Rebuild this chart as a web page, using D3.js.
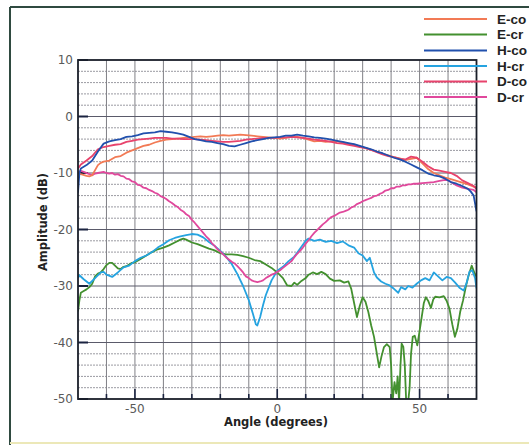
<!DOCTYPE html>
<html><head><meta charset="utf-8">
<script src="https://cdn.jsdelivr.net/npm/d3@7"></script>
<style>body{margin:0;background:#fff}svg{display:block}</style>
</head><body>
<svg id="c" width="529" height="445"></svg>
<script>
const xTicks = [-50, 0, 50];
const yTicks = [-50, -40, -30, -20, -10, 0, 10];
const seriesNames = ["E-co", "E-cr", "H-co", "H-cr", "D-co", "D-cr"];

const eCo = [[-70,-10.0],[-69,-10.2],[-67,-10.5],[-66,-10.6],[-65,-10.4],[-64,-9.5],[-63,-8.6],[-62,-8.2],[-61,-8.0],[-59,-7.8],[-57,-7.2],[-55,-7.0],[-53,-6.4],[-51,-6.0],[-49,-5.6],[-47,-5.2],[-45,-5.0],[-43,-4.6],[-41,-4.3],[-39,-4.1],[-37,-4.0],[-35,-3.9],[-33,-3.8],[-31,-3.7],[-29,-3.6],[-27,-3.5],[-25,-3.6],[-23,-3.5],[-21,-3.4],[-19,-3.3],[-17,-3.4],[-15,-3.3],[-13,-3.2],[-11,-3.3],[-9,-3.4],[-7,-3.5],[-5,-3.6],[-3,-3.7],[-1,-3.8],[1,-3.9],[3,-3.8],[5,-3.6],[7,-3.6],[9,-3.8],[11,-4.1],[13,-4.4],[15,-4.3],[17,-4.5],[19,-4.4],[21,-4.4],[23,-4.6],[25,-4.8],[27,-5.0],[29,-5.3],[31,-5.6],[33,-5.9],[35,-6.2],[37,-6.6],[39,-6.9],[41,-7.2],[43,-7.4],[45,-7.7],[47,-7.5],[49,-7.3],[51,-8.3],[53,-9.3],[55,-10.0],[57,-10.4],[59,-10.8],[61,-11.1],[63,-11.4],[65,-11.7],[67,-12.0],[69,-12.4],[70,-12.6]];

const eCr = [[-70,-34.5],[-69.5,-32.5],[-69,-31.2],[-68,-30.9],[-67,-30.6],[-66,-30.2],[-65,-29.6],[-64,-28.3],[-63,-27.8],[-62,-27.6],[-61,-27.0],[-60,-26.3],[-59,-25.9],[-58,-25.9],[-57,-26.4],[-56,-26.9],[-55,-27.0],[-54,-26.6],[-53,-26.5],[-52,-26.2],[-51,-25.9],[-50,-25.8],[-48,-25.2],[-46,-24.6],[-44,-24.0],[-42,-23.5],[-40,-23.2],[-38,-22.8],[-36,-22.3],[-34,-21.8],[-33,-21.6],[-32,-21.8],[-30,-22.3],[-28,-22.6],[-26,-23.0],[-24,-23.4],[-22,-23.7],[-20,-24.2],[-18,-24.4],[-16,-24.4],[-14,-24.5],[-12,-24.7],[-10,-25.0],[-8,-25.4],[-6,-25.6],[-4,-26.2],[-2,-26.8],[0,-27.6],[2,-28.6],[3.5,-29.9],[5,-30.0],[6,-29.4],[7,-29.8],[8.5,-29.1],[10,-28.6],[11,-28.0],[12.5,-27.6],[14,-27.9],[15.5,-27.5],[17,-27.9],[18.5,-28.7],[20,-29.1],[22,-29.0],[23.5,-29.4],[25,-29.2],[26,-30.5],[27,-33.0],[28,-35.5],[29,-33.5],[30,-32.0],[31,-32.8],[32,-34.6],[33,-37.0],[34,-39.0],[35,-42.0],[35.8,-44.4],[36.6,-42.5],[37.5,-40.8],[38.5,-40.3],[39.5,-40.8],[40,-44],[40.5,-50.5],[41.2,-47.0],[41.8,-49.0],[42.3,-46.0],[42.8,-50.5],[43.3,-44.0],[43.7,-40.2],[44.3,-40.8],[44.8,-44.0],[45.3,-50.5],[46.0,-50.5],[46.5,-48],[47.0,-42.0],[47.6,-39.0],[48.3,-38.8],[49.2,-40.5],[50.0,-38.0],[50.6,-36.0],[51.5,-33.0],[52.2,-32.0],[53,-32.6],[54,-33.9],[54.8,-32.4],[55.5,-31.9],[57,-32.0],[58.5,-31.8],[59.5,-32.6],[60.5,-34.0],[61.5,-36.8],[62.4,-39.0],[63.3,-37.5],[64.3,-34.5],[65.3,-32.5],[66.3,-30.0],[67.2,-28.2],[68.3,-26.4],[69.2,-27.6],[70,-28.4]];

const hCo = [[-70,-13.5],[-69.5,-10.0],[-69,-9.2],[-67,-8.6],[-65,-7.8],[-63,-6.2],[-61,-4.8],[-59,-4.4],[-57,-4.2],[-55,-4.0],[-53,-3.6],[-51,-3.5],[-49,-3.3],[-47,-3.0],[-45,-2.9],[-43,-2.8],[-41,-2.6],[-39,-2.7],[-37,-2.8],[-35,-3.0],[-33,-3.2],[-31,-3.6],[-29,-4.0],[-27,-4.2],[-25,-4.4],[-23,-4.5],[-21,-4.7],[-19,-4.9],[-17,-5.2],[-15,-5.3],[-13,-5.0],[-11,-4.7],[-9,-4.4],[-7,-4.2],[-5,-4.0],[-3,-3.8],[-1,-3.7],[1,-3.6],[3,-3.4],[5,-3.4],[7,-3.2],[9,-3.4],[11,-3.5],[13,-3.7],[15,-3.8],[17,-3.9],[19,-4.1],[21,-4.3],[23,-4.5],[25,-4.7],[27,-4.9],[29,-5.2],[31,-5.5],[33,-5.8],[35,-6.2],[37,-6.5],[39,-6.9],[41,-7.3],[43,-7.6],[45,-8.0],[47,-8.5],[49,-9.0],[51,-9.5],[53,-10.1],[55,-10.4],[57,-10.6],[59,-11.0],[61,-11.6],[63,-11.9],[65,-12.3],[67,-12.8],[68,-13.3],[69,-14.0],[70,-16.8]];

const hCr = [[-70,-28.6],[-69.5,-28.1],[-68,-28.8],[-66,-29.6],[-64,-28.6],[-62,-27.6],[-61,-27.5],[-60,-28.0],[-58,-28.4],[-56,-27.6],[-54,-26.7],[-52,-26.4],[-50,-25.6],[-48,-25.0],[-46,-24.6],[-44,-24.0],[-42,-23.2],[-40,-22.6],[-38,-21.9],[-36,-21.5],[-34,-21.2],[-32,-21.0],[-30,-20.8],[-28,-20.9],[-26,-21.4],[-24,-22.2],[-22,-22.9],[-20,-23.8],[-18,-24.8],[-16,-26.1],[-14,-27.9],[-12,-30.0],[-10,-32.5],[-8.5,-35.0],[-7.5,-36.8],[-7,-37.0],[-6,-35.5],[-5,-33.4],[-4,-31.6],[-2,-29.0],[0,-27.3],[2,-26.6],[4,-25.6],[6,-24.8],[8,-23.4],[10,-22.0],[11,-21.6],[13,-22.0],[15,-21.8],[17,-22.2],[19,-22.0],[21,-22.4],[23,-22.1],[25,-22.8],[27,-23.2],[28.5,-24.2],[30,-24.6],[31.5,-25.6],[32.5,-25.0],[34,-27.6],[35,-28.5],[36.5,-29.2],[38,-29.6],[39.5,-29.9],[41,-30.5],[42.5,-31.2],[43.5,-30.2],[45,-30.6],[46,-30.0],[47.5,-30.3],[49,-29.6],[50.5,-29.0],[52,-28.6],[53.5,-29.0],[55,-27.6],[56.5,-28.3],[58,-29.0],[59.5,-28.4],[61,-28.6],[62.5,-29.4],[64,-30.3],[65.5,-30.8],[66.5,-29.5],[67.5,-27.5],[68.5,-27.2],[69.5,-28.6],[70,-30.4]];

const dCo = [[-70,-9.2],[-69,-8.5],[-67,-7.8],[-65,-7.0],[-63,-5.8],[-61,-5.4],[-59,-5.2],[-57,-5.0],[-55,-4.9],[-53,-4.5],[-51,-4.3],[-49,-4.1],[-47,-4.0],[-45,-3.9],[-43,-3.8],[-41,-3.8],[-39,-3.8],[-37,-3.9],[-35,-3.9],[-33,-4.0],[-31,-4.0],[-29,-4.0],[-27,-4.1],[-25,-4.2],[-23,-4.3],[-21,-4.4],[-19,-4.5],[-17,-4.5],[-15,-4.4],[-13,-4.3],[-11,-4.1],[-9,-4.0],[-7,-3.9],[-5,-3.8],[-3,-3.8],[-1,-3.8],[1,-3.7],[3,-3.7],[5,-3.6],[7,-3.7],[9,-3.8],[11,-3.9],[13,-4.1],[15,-4.2],[17,-4.3],[19,-4.5],[21,-4.7],[23,-4.8],[25,-5.0],[27,-5.2],[29,-5.4],[31,-5.6],[33,-5.9],[35,-6.3],[37,-6.7],[39,-7.0],[41,-7.2],[43,-7.5],[45,-7.6],[47,-7.1],[49,-7.3],[51,-8.0],[53,-8.8],[55,-9.4],[57,-9.6],[59,-9.8],[61,-10.0],[63,-10.5],[65,-11.3],[67,-11.8],[69,-12.3],[70,-12.8]];

const dCr = [[-70,-10.0],[-69,-9.6],[-68,-9.8],[-66,-10.2],[-65,-10.4],[-64,-10.1],[-63,-10.0],[-62,-9.9],[-61,-9.8],[-60,-10.0],[-59,-10.1],[-58,-10.0],[-57,-10.3],[-56,-10.2],[-55,-10.5],[-54,-10.6],[-53,-11.0],[-52,-11.1],[-51,-11.5],[-50,-11.6],[-49,-12.1],[-48,-12.2],[-47,-12.6],[-46,-12.7],[-45,-13.0],[-44,-13.2],[-43,-13.5],[-42,-13.7],[-41,-14.1],[-40,-14.3],[-39,-14.6],[-38,-15.0],[-37,-15.3],[-36,-15.7],[-35,-16.0],[-34,-16.5],[-33,-16.8],[-32,-17.3],[-31,-17.6],[-30,-18.3],[-29,-18.8],[-28,-19.4],[-27,-20.0],[-26,-20.6],[-25,-21.2],[-24,-21.7],[-23,-22.4],[-22,-22.9],[-21,-23.5],[-20,-23.9],[-19,-24.4],[-18,-24.9],[-17,-25.3],[-16,-25.7],[-15,-26.0],[-14,-26.5],[-13,-27.0],[-12,-27.6],[-11,-28.3],[-10,-28.6],[-9,-29.0],[-8,-29.2],[-7,-29.3],[-6,-29.2],[-5,-29.0],[-4,-28.6],[-3,-28.3],[-2,-28.0],[-1,-27.8],[0,-27.5],[1,-27.2],[2,-26.8],[3,-26.4],[4,-26.0],[5,-25.6],[6,-24.9],[7,-24.3],[8,-23.8],[9,-23.2],[10,-22.5],[11,-21.9],[12,-21.2],[13,-20.6],[14,-20.1],[15,-19.6],[16,-19.1],[17,-18.7],[18,-18.2],[19,-17.8],[20,-17.6],[21,-17.3],[22,-17.0],[23,-16.9],[24,-16.7],[25,-16.5],[26,-16.1],[27,-15.9],[28,-15.5],[29,-15.3],[30,-15.0],[31,-14.8],[32,-14.6],[33,-14.4],[34,-14.1],[35,-14.0],[36,-13.7],[37,-13.5],[38,-13.1],[39,-13.0],[40,-12.7],[41,-12.7],[42,-12.4],[43,-12.4],[44,-12.2],[45,-12.2],[46,-12.0],[47,-12.0],[48,-11.9],[49,-11.9],[51,-11.8],[53,-11.7],[55,-11.6],[57,-11.4],[59,-11.2],[60,-11.3],[61,-11.6],[63,-12.2],[65,-12.6],[67,-12.8],[69,-13.0],[70,-13.4]];

const colors = ["#f27a55", "#43902f", "#2150ad", "#25a3e0", "#e8436c", "#e0489c"];
const seriesData = [eCo, eCr, hCo, hCr, dCo, dCr];

const svg = d3.select("#c");
const x = d3.scaleLinear().domain([-70, 70]).range([78, 476.5]);
const y = d3.scaleLinear().domain([-50, 10]).range([399, 60]);

// outer frame
svg.append("line").attr("x1",10).attr("x2",10).attr("y1",7).attr("y2",445).attr("stroke","#2f4a40").attr("stroke-width",2);
svg.append("line").attr("x1",10).attr("x2",529).attr("y1",7).attr("y2",7).attr("stroke","#2f4a40").attr("stroke-width",2);
svg.append("line").attr("x1",10).attr("x2",529).attr("y1",443).attr("y2",443).attr("stroke","#ece8b8").attr("stroke-width",2);

// grid
const g = svg.append("g");
g.selectAll(".hm").data(d3.range(-48, 10, 2).filter(v => v % 10 !== 0)).join("line")
  .attr("x1", x(-70)).attr("x2", x(70)).attr("y1", d => y(d)).attr("y2", d => y(d))
  .attr("stroke", "#9a9aa2").attr("stroke-width", 1).attr("stroke-dasharray", "2,1");
g.selectAll(".vg").data(d3.range(-60, 70, 10)).join("line")
  .attr("x1", d => x(d)).attr("x2", d => x(d)).attr("y1", y(10)).attr("y2", y(-50))
  .attr("stroke", "#808086").attr("stroke-width", 1);
g.selectAll(".hM").data(d3.range(-40, 10, 10)).join("line")
  .attr("x1", x(-70)).attr("x2", x(70)).attr("y1", d => y(d)).attr("y2", d => y(d))
  .attr("stroke", "#5a5a6a").attr("stroke-width", 1.2);

// tick marks
g.selectAll(".yt").data(yTicks).join("line")
  .attr("x1", x(-70)).attr("x2", x(-70) + 10).attr("y1", d => y(d)).attr("y2", d => y(d))
  .attr("stroke", "#1a2340").attr("stroke-width", 2);
g.selectAll(".xt").data(d3.range(-60, 70, 10)).join("line")
  .attr("x1", d => x(d)).attr("x2", d => x(d)).attr("y1", y(-50)).attr("y2", d => y(-50) - (d % 50 === 0 ? 10 : 5))
  .attr("stroke", "#1a2340").attr("stroke-width", 1.6);

// series
svg.append("clipPath").attr("id","clip").append("rect")
  .attr("x", x(-70)).attr("y", y(10)).attr("width", x(70) - x(-70)).attr("height", y(-50) - y(10));
const line = d3.line().x(d => x(d[0])).y(d => y(d[1]));
const order = [1, 3, 5, 0, 4, 2];
svg.append("g").attr("clip-path", "url(#clip)").selectAll("path").data(order).join("path")
  .attr("d", i => line(seriesData[i])).attr("fill", "none")
  .attr("stroke", i => colors[i]).attr("stroke-width", 1.8).attr("stroke-linejoin","round");

// plot border
svg.append("rect").attr("x", x(-70)).attr("y", y(10)).attr("width", x(70) - x(-70)).attr("height", y(-50) - y(10))
  .attr("fill", "none").attr("stroke", "#1a1f2a").attr("stroke-width", 1.8);

// tick labels
svg.selectAll(".yl").data(yTicks).join("text")
  .attr("x", 73).attr("y", d => y(d)).attr("dy", "0.36em").attr("text-anchor", "end")
  .attr("font-family", "DejaVu Sans, sans-serif").attr("font-size", 12).attr("fill", "#5a5a5a").text(d => d);
svg.selectAll(".xl").data(xTicks).join("text")
  .attr("x", d => x(d)).attr("y", 413).attr("text-anchor", "middle")
  .attr("font-family", "DejaVu Sans, sans-serif").attr("font-size", 12).attr("fill", "#5a5a5a").text(d => d);

// axis titles
svg.append("text").attr("x", 276).attr("y", 426).attr("text-anchor", "middle")
  .attr("font-family", "DejaVu Sans, sans-serif").attr("font-weight", "bold").attr("font-size", 11.5).attr("fill", "#222")
  .text("Angle (degrees)");
svg.append("text").attr("transform", "translate(47,222) rotate(-90)").attr("text-anchor", "middle")
  .attr("font-family", "DejaVu Sans, sans-serif").attr("font-weight", "bold").attr("font-size", 11.5).attr("fill", "#222")
  .text("Amplitude (dB)");

// legend
const lg = svg.append("g");
const ly = [19, 34.5, 50.5, 66, 81.5, 97];
seriesNames.forEach((n, i) => {
  lg.append("line").attr("x1", 424).attr("x2", 487).attr("y1", ly[i]).attr("y2", ly[i])
    .attr("stroke", colors[i]).attr("stroke-width", 2);
  lg.append("text").attr("x", 497).attr("y", ly[i]).attr("dy", "0.36em")
    .attr("font-family", "Liberation Sans Narrow, Liberation Sans, Arial, sans-serif").attr("font-weight", "bold")
    .attr("font-size", 13.5).attr("fill", "#222").text(n);
});
</script>
</body></html>
